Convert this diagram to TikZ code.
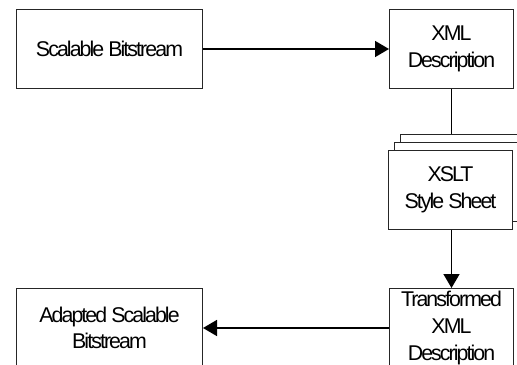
\documentclass[tikz,border=0pt]{standalone}
\usepackage{fontspec}
\setmainfont[LetterSpace=-9]{Liberation Sans}
\usetikzlibrary{arrows.meta,positioning}
\tikzset{
  x=0.75pt,y=-0.75pt,
  blockbox/.style={draw=black!85,line width=0.75pt,fill=white,inner sep=0pt,align=center,
    font=\fontsize{16pt}{20pt}\selectfont,anchor=north west},
  wide/.style={blockbox,minimum width=139.5pt,minimum height=59.25pt},
  narrow/.style={blockbox,minimum width=93pt,minimum height=59.25pt},
  link/.style={draw=black,line width=1.2pt},
  flow/.style={link,-{Triangle[length=10.5pt,width=12pt]}},
}
\begin{document}
\begin{tikzpicture}
\useasboundingbox (0,0) rectangle (517,364);
\clip (0,0) rectangle (517,364);
\node[wide] (src) at (16,9) {Scalable Bitstream};
\node[narrow] (xml) at (389,9) {XML\\Description};
\node[narrow] (sheetc) at (400,134) {};
\node[narrow] (sheetb) at (394,142) {};
\node[narrow] (xslt) at (388,149.5) {XSLT\\Style Sheet};
\node[narrow] (out) at (389,288) {Transformed\\XML\\Description};
\node[wide] (adapted) at (16,288) {Adapted Scalable\\Bitstream};
\draw[flow] (src.east) -- (xml.west);
\draw[link] (xml.south) -- (xml.south |- sheetc.north);
\draw[flow] (xml.south |- xslt.south) -- (xml.south |- out.north);
\draw[flow] (out.west) -- (adapted.east);
\end{tikzpicture}
\end{document}
